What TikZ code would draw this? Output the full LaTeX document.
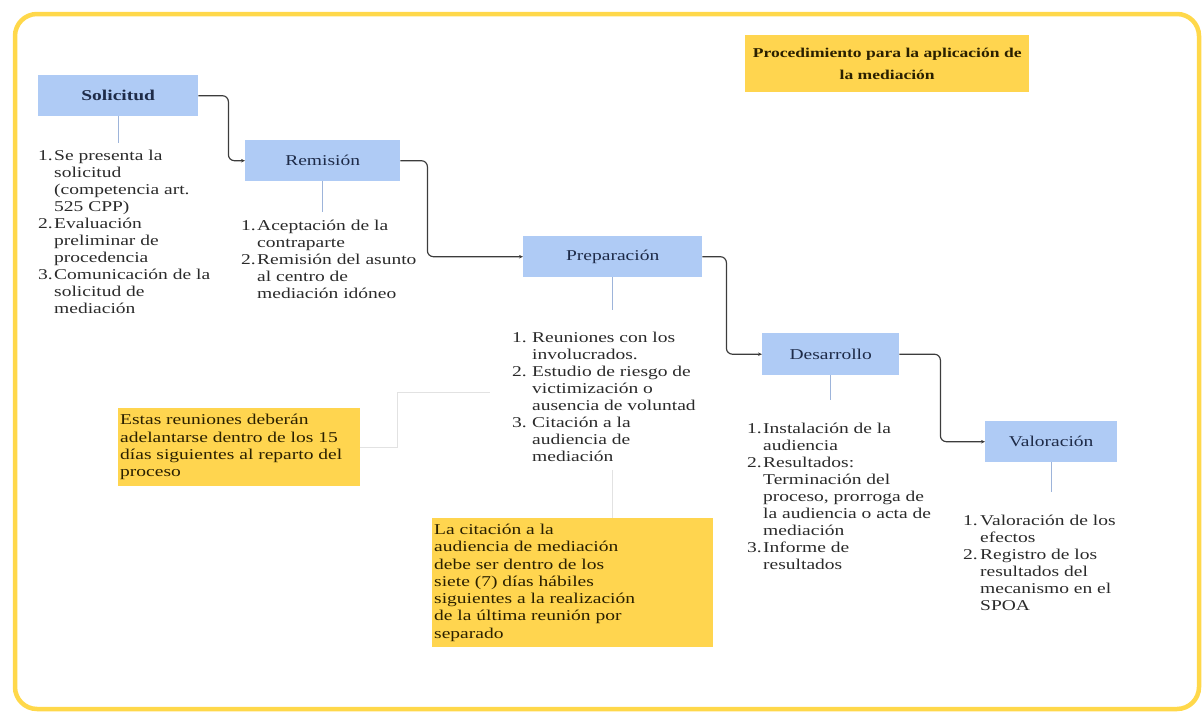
\documentclass[tikz,border=0pt]{standalone}
\usepackage{fontspec}
\setmainfont{Liberation Serif}[FakeStretch=1.3]
\usetikzlibrary{arrows.meta}
\definecolor{boxblue}{HTML}{AFCBF5}
\definecolor{noteyellow}{HTML}{FFD54F}
\definecolor{frameyellow}{HTML}{FFD84A}
\definecolor{navy}{HTML}{1E2B48}
\definecolor{txt}{HTML}{2A2A2A}
\definecolor{conn}{HTML}{3C3C3C}
\definecolor{stemc}{HTML}{9DB4DA}
\definecolor{faintc}{HTML}{E2E2E2}
\definecolor{notetxt}{HTML}{2A2000}
\newcommand{\nm}[2][16pt]{\makebox[#1][l]{#2}}
\newcommand{\ind}[1][16pt]{\hspace*{#1}}
\tikzset{
  stepbox/.style={fill=boxblue, draw=none, text=navy, inner sep=0pt,
    font=\fontsize{15}{17}\selectfont, anchor=north west},
  listtxt/.style={align=left, text=txt, inner sep=0pt, anchor=north west,
    font=\fontsize{15}{17}\selectfont},
  notebg/.style={fill=noteyellow, draw=none, inner sep=0pt, anchor=north west},
  notetext/.style={align=left, text=notetxt, inner sep=0pt, anchor=west,
    font=\fontsize{15}{17.3}\selectfont},
  conn/.style={draw=conn, line width=1.2pt, rounded corners=6pt,
    -{Stealth[length=4pt,width=3.5pt]}},
  stemline/.style={draw=stemc, line width=1.3pt},
  faintline/.style={draw=faintc, line width=1pt}
}
\begin{document}
\begin{tikzpicture}[x=1pt,y=-1pt]
\useasboundingbox (0,0) rectangle (1204,715);
% frame
\draw[frameyellow, line width=4.5pt, rounded corners=22pt] (15,14) rectangle (1199,709);

% title
\node[notebg, minimum width=284pt, minimum height=57pt, align=center,
  text=notetxt, font=\fontsize{13.5}{22}\selectfont\bfseries] (title) at (745,35)
  {Procedimiento para la aplicación de\\la mediación};

% step boxes
\node[stepbox, minimum width=160pt, minimum height=41pt] (sol) at (38,75) {\textbf{Solicitud}};
\node[stepbox, minimum width=155pt, minimum height=41pt] (rem) at (245,140) {Remisión};
\node[stepbox, minimum width=179pt, minimum height=41pt] (pre) at (523,236) {Preparación};
\node[stepbox, minimum width=137pt, minimum height=42pt] (des) at (762,333) {Desarrollo};
\node[stepbox, minimum width=132pt, minimum height=41pt] (val) at (985,421) {Valoración};

% connectors
\draw[conn] (sol.east) -- ++(30,0) |- (rem.west);
\draw[conn] (rem.east) -- ++(27,0) |- (pre.west);
\draw[conn] (pre.east) -- ++(24,0) |- (des.west);
\draw[conn] (des.east) -- ++(41,0) |- (val.west);

% stems
\draw[stemline] (sol.south) -- ++(0,27);
\draw[stemline] (rem.south) -- ++(0,31);
\draw[stemline] (pre.south) -- ++(0,33);
\draw[stemline] (des.south) -- ++(0,25);
\draw[stemline] (val.south) -- ++(0,30);

% lists
\node[listtxt] (lsol) at (38,150) {%
\nm{1.}Se presenta la\\ \ind solicitud\\ \ind (competencia art.\\ \ind 525 CPP)\\
\nm{2.}Evaluación\\ \ind preliminar de\\ \ind procedencia\\
\nm{3.}Comunicación de la\\ \ind solicitud de\\ \ind mediación};

\node[listtxt] (lrem) at (241,220) {%
\nm{1.}Aceptación de la\\ \ind contraparte\\
\nm{2.}Remisión del asunto\\ \ind al centro de\\ \ind mediación idóneo};

\node[listtxt] (lpre) at (512,332) {%
\nm[20pt]{1.}Reuniones con los\\ \ind[20pt]involucrados.\\
\nm[20pt]{2.}Estudio de riesgo de\\ \ind[20pt]victimización o\\ \ind[20pt]ausencia de voluntad\\
\nm[20pt]{3.}Citación a la\\ \ind[20pt]audiencia de\\ \ind[20pt]mediación};

\node[listtxt] (ldes) at (747,423) {%
\nm{1.}Instalación de la\\ \ind audiencia\\
\nm{2.}Resultados:\\ \ind Terminación del\\ \ind proceso, prorroga de\\ \ind la audiencia o acta de\\ \ind mediación\\
\nm{3.}Informe de\\ \ind resultados};

\node[listtxt] (lval) at (963,515) {%
\nm[17pt]{1.}Valoración de los\\ \ind[17pt]efectos\\
\nm[17pt]{2.}Registro de los\\ \ind[17pt]resultados del\\ \ind[17pt]mecanismo en el\\ \ind[17pt]SPOA};

% notes
\node[notebg, minimum width=242pt, minimum height=78pt] (n1) at (118,408) {};
\node[notetext] (t1) at ([xshift=2pt]n1.west) {Estas reuniones deberán\\adelantarse dentro de los 15\\días siguientes al reparto del\\proceso};

\node[notebg, minimum width=281pt, minimum height=129pt] (n2) at (432,518) {};
\node[notetext] (t2) at ([xshift=2pt]n2.west) {La citación a la\\audiencia de mediación\\debe ser dentro de los\\siete (7) días hábiles\\siguientes a la realización\\de la última reunión por\\separado};

% faint connectors
\coordinate (f1) at (490,392);
\draw[faintline] (n1.east) -- ++(37,0) |- (f1);
\coordinate (f2) at (612,470);
\draw[faintline] (f2) -- (f2 |- n2.north);
\end{tikzpicture}
\end{document}
